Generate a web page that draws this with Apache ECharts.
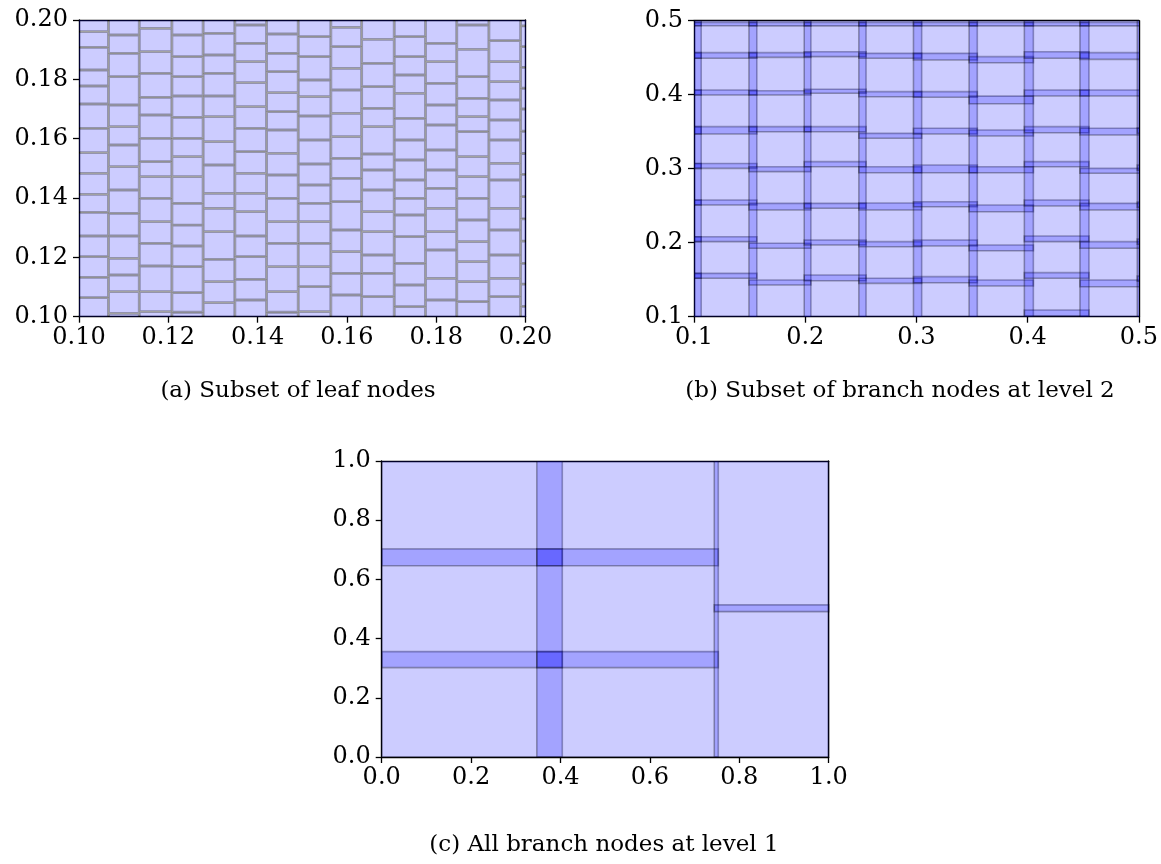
<!DOCTYPE html>
<html>
<head>
<meta charset="utf-8">
<script src="https://cdn.jsdelivr.net/npm/echarts@6/dist/echarts.min.js"></script>
<style>
  html, body { margin: 0; padding: 0; background: #ffffff; }
  #chart { width: 1161px; height: 864px; }
</style>
</head>
<body>
<div id="chart"></div>
<script>
// ---- tick labels ----
const ticksA = ['0.10', '0.12', '0.14', '0.16', '0.18', '0.20'];
const ticksB = ['0.1', '0.2', '0.3', '0.4', '0.5'];
const ticksC = ['0.0', '0.2', '0.4', '0.6', '0.8', '1.0'];

const captions = [
  '(a) Subset of leaf nodes',
  '(b) Subset of branch nodes at level 2',
  '(c) All branch nodes at level 1'
];

// ---- (a) leaf nodes: column x-edges and, per column, the y-edges of the stacked leaves ----
const leafColEdges = [0.0995, 0.1066, 0.1135, 0.1208, 0.1278, 0.1349, 0.1420, 0.1491,
                      0.1564, 0.1633, 0.1706, 0.1776, 0.1846, 0.1918, 0.1989, 0.2060];
const leafRowEdges = [
  [0.095, 0.10641, 0.11327, 0.12023, 0.1272, 0.13518, 0.14124, 0.14832, 0.15529, 0.16349, 0.17169, 0.17776, 0.18315, 0.19079, 0.19607, 0.205],
  [0.095, 0.10113, 0.10844, 0.11405, 0.11967, 0.1272, 0.13484, 0.1427, 0.15057, 0.15787, 0.16405, 0.17135, 0.1809, 0.18877, 0.19494, 0.205],
  [0.095, 0.1017, 0.10844, 0.11709, 0.12473, 0.13203, 0.1399, 0.1472, 0.15225, 0.16012, 0.16798, 0.17394, 0.18203, 0.18933, 0.19719, 0.205],
  [0.095, 0.1015, 0.10809, 0.11686, 0.12383, 0.1309, 0.13821, 0.1472, 0.15394, 0.16012, 0.1672, 0.17438, 0.1809, 0.18764, 0.19494, 0.205],
  [0.095, 0.10473, 0.11181, 0.11934, 0.12866, 0.13652, 0.14158, 0.15113, 0.159, 0.16742, 0.17438, 0.18203, 0.1882, 0.19551, 0.205],
  [0.095, 0.10563, 0.1126, 0.12023, 0.1272, 0.1354, 0.14158, 0.14832, 0.15562, 0.16349, 0.17079, 0.17888, 0.18596, 0.19214, 0.19831, 0.205],
  [0.095, 0.1015, 0.10844, 0.11687, 0.12473, 0.13203, 0.1399, 0.14776, 0.15506, 0.16293, 0.1691, 0.17551, 0.18258, 0.18877, 0.19528, 0.205],
  [0.095, 0.1017, 0.11012, 0.11687, 0.12473, 0.13203, 0.13821, 0.14439, 0.15147, 0.15956, 0.16764, 0.17416, 0.17978, 0.18764, 0.19438, 0.205],
  [0.095, 0.10731, 0.11462, 0.12192, 0.12922, 0.13877, 0.14664, 0.15338, 0.16068, 0.16854, 0.17641, 0.18371, 0.19101, 0.1975, 0.205],
  [0.095, 0.10675, 0.11462, 0.1208, 0.12866, 0.1354, 0.1427, 0.14944, 0.15484, 0.16405, 0.17023, 0.17753, 0.1854, 0.19348, 0.205],
  [0.095, 0.10338, 0.11068, 0.11799, 0.12697, 0.13428, 0.1399, 0.14607, 0.15281, 0.15956, 0.16686, 0.17528, 0.18146, 0.18764, 0.19438, 0.205],
  [0.095, 0.10563, 0.11293, 0.12248, 0.12866, 0.13652, 0.14327, 0.14944, 0.15618, 0.16461, 0.17135, 0.17866, 0.18596, 0.19214, 0.205],
  [0.095, 0.10506, 0.11181, 0.11855, 0.12529, 0.13259, 0.1399, 0.1472, 0.15394, 0.16236, 0.16742, 0.1736, 0.1809, 0.19011, 0.19831, 0.205],
  [0.095, 0.10675, 0.11293, 0.1208, 0.12922, 0.13652, 0.14607, 0.15169, 0.15956, 0.1663, 0.17304, 0.17922, 0.18596, 0.19303, 0.205],
  [0.095, 0.1035, 0.111, 0.118, 0.1255, 0.133, 0.1405, 0.148, 0.155, 0.1625, 0.17, 0.177, 0.184, 0.191, 0.198, 0.205]
];

// ---- (b) level-2 branch nodes: column x-extents and, per column, the overlap bands between stacked nodes ----
const branchColX = [
  [0.05, 0.1065], [0.1003, 0.1565], [0.1494, 0.2051], [0.1991, 0.2547], [0.2482, 0.3047],
  [0.2973, 0.3547], [0.3473, 0.4051], [0.3970, 0.4551], [0.4470, 0.5015], [0.4985, 0.56]
];
const branchBands = [
  [[0.1519, 0.1586], [0.2014, 0.2081], [0.2509, 0.2577], [0.3005, 0.3070], [0.3469, 0.3568], [0.3996, 0.4064], [0.4492, 0.4568], [0.4932, 0.4977]],
  [[0.1519, 0.1586], [0.2014, 0.2081], [0.2509, 0.2577], [0.3005, 0.3070], [0.3469, 0.3568], [0.3996, 0.4064], [0.4492, 0.4568], [0.4932, 0.4977]],
  [[0.1428, 0.1496], [0.1924, 0.1992], [0.2442, 0.2532], [0.2960, 0.3027], [0.3500, 0.3568], [0.3996, 0.4054], [0.4505, 0.4568], [0.4930, 0.4977]],
  [[0.1486, 0.1563], [0.1969, 0.2036], [0.2465, 0.2532], [0.3027, 0.3095], [0.3500, 0.3568], [0.4019, 0.4073], [0.4514, 0.4581], [0.4930, 0.4977]],
  [[0.1451, 0.1519], [0.1946, 0.2014], [0.2442, 0.2536], [0.2946, 0.3027], [0.3411, 0.3478], [0.3973, 0.4041], [0.4492, 0.4559], [0.4930, 0.4977]],
  [[0.1459, 0.1541], [0.1955, 0.2036], [0.2486, 0.2554], [0.2946, 0.3050], [0.3469, 0.3546], [0.3965, 0.4041], [0.4469, 0.4559], [0.4930, 0.4977]],
  [[0.1415, 0.1496], [0.1892, 0.1969], [0.2419, 0.2509], [0.2946, 0.3027], [0.3442, 0.3523], [0.3878, 0.3981], [0.4432, 0.4514], [0.4930, 0.4977]],
  [[0.1010, 0.1090], [0.1519, 0.1595], [0.2014, 0.2091], [0.2496, 0.2577], [0.3027, 0.3095], [0.3486, 0.3568], [0.3982, 0.4064], [0.4492, 0.4581], [0.4930, 0.4977]],
  [[0.1405, 0.1496], [0.1924, 0.2014], [0.2442, 0.2532], [0.2938, 0.3005], [0.3455, 0.3546], [0.3982, 0.4064], [0.4478, 0.4568], [0.4930, 0.4977]],
  [[0.1480, 0.1550], [0.1980, 0.2050], [0.2480, 0.2550], [0.2980, 0.3050], [0.3480, 0.3550]]
];

// ---- (c) level-1 branch nodes: [x0, x1, y0, y1] ----
const levelOneNodes = [
  [0.000, 0.404, 0.000, 0.356],
  [0.000, 0.404, 0.302, 0.703],
  [0.000, 0.404, 0.646, 1.000],
  [0.347, 0.753, 0.000, 0.356],
  [0.347, 0.753, 0.302, 0.703],
  [0.347, 0.753, 0.646, 1.000],
  [0.744, 1.000, 0.000, 0.514],
  [0.744, 1.000, 0.491, 1.000]
];

// ---- build rectangle lists ----
function buildLeaves() {
  const out = [];
  const gx = 0.00014, gy = 0.0002;
  for (let i = 0; i < leafRowEdges.length; i++) {
    const x0 = leafColEdges[i] + gx, x1 = leafColEdges[i + 1] - gx;
    const r = leafRowEdges[i];
    for (let k = 0; k < r.length - 1; k++) out.push([x0, x1, r[k] + gy, r[k + 1] - gy]);
  }
  return out;
}
function buildBranches() {
  const out = [];
  for (let i = 0; i < branchColX.length; i++) {
    const [x0, x1] = branchColX[i];
    const bands = branchBands[i];
    let lo = 0.05;
    for (let k = 0; k < bands.length; k++) {
      out.push([x0, x1, lo, bands[k][1]]);
      lo = bands[k][0];
    }
    out.push([x0, x1, lo, 0.56]);
  }
  return out;
}

const FONT = '"DejaVu Serif", "Liberation Serif", serif';
const TICK_FS = 24;
const CAP_FS = 23;

function renderBox(params, api) {
  const a = api.coord([api.value(0), api.value(2)]);
  const b = api.coord([api.value(1), api.value(3)]);
  return {
    type: 'rect',
    shape: {
      x: Math.min(a[0], b[0]), y: Math.min(a[1], b[1]),
      width: Math.abs(b[0] - a[0]), height: Math.abs(b[1] - a[1])
    },
    style: { fill: 'rgba(0,0,255,0.2)', stroke: 'rgba(0,0,0,0.32)', lineWidth: 1.6 }
  };
}

function labelFrom(ticks, min, step) {
  return v => {
    const i = Math.round((v - min) / step);
    return ticks[i] !== undefined ? ticks[i] : '';
  };
}

const panels = [
  { grid: { left: 79, top: 20, width: 446.5, height: 296.7 }, min: 0.1, max: 0.2, step: 0.02, ticks: ticksA, data: buildLeaves() },
  { grid: { left: 694, top: 20.7, width: 448, height: 296 }, min: 0.1, max: 0.5, step: 0.1, ticks: ticksB, data: buildBranches() },
  { grid: { left: 381.7, top: 461, width: 447, height: 296 }, min: 0, max: 1, step: 0.2, ticks: ticksC, data: levelOneNodes }
];

const grids = [], xAxes = [], yAxes = [], series = [];
const axisLine = { show: true, onZero: false, lineStyle: { color: '#000', width: 1.4 } };
panels.forEach((p, i) => {
  grids.push(Object.assign({ containLabel: false }, p.grid));
  const fmt = labelFrom(p.ticks, p.min, p.step);
  const common = { type: 'value', gridIndex: i, min: p.min, max: p.max, interval: p.step, splitLine: { show: false } };
  xAxes.push(Object.assign({}, common, {
    position: 'bottom', axisLine,
    axisTick: { show: true, inside: false, length: 6, lineStyle: { color: '#000', width: 1.3 } },
    axisLabel: { show: true, formatter: fmt, color: '#000', fontFamily: FONT, fontSize: TICK_FS, margin: 9, showMinLabel: true, showMaxLabel: true }
  }));
  yAxes.push(Object.assign({}, common, {
    position: 'left', axisLine,
    axisTick: { show: true, inside: false, length: 6, lineStyle: { color: '#000', width: 1.3 } },
    axisLabel: { show: true, formatter: fmt, color: '#000', fontFamily: FONT, fontSize: TICK_FS, margin: 11, showMinLabel: true, showMaxLabel: true }
  }));
  // frame on the top and right sides
  xAxes.push(Object.assign({}, common, { position: 'top', axisLine, axisTick: { show: false }, axisLabel: { show: false } }));
  yAxes.push(Object.assign({}, common, { position: 'right', axisLine, axisTick: { show: false }, axisLabel: { show: false } }));
  series.push({
    type: 'custom', xAxisIndex: 2 * i, yAxisIndex: 2 * i, clip: true, silent: true,
    renderItem: renderBox, data: p.data, animation: false, z: 1
  });
});

const capFont = CAP_FS + 'px ' + FONT;
const chart = echarts.init(document.getElementById('chart'), null, { renderer: 'canvas' });
chart.setOption({
  animation: false,
  backgroundColor: '#ffffff',
  grid: grids, xAxis: xAxes, yAxis: yAxes, series,
  graphic: [
    { type: 'text', x: 298, y: 391, style: { text: captions[0], font: capFont, fill: '#000', textAlign: 'center', textVerticalAlign: 'middle' } },
    { type: 'text', x: 900, y: 391, style: { text: captions[1], font: capFont, fill: '#000', textAlign: 'center', textVerticalAlign: 'middle' } },
    { type: 'text', x: 604, y: 845, style: { text: captions[2], font: capFont, fill: '#000', textAlign: 'center', textVerticalAlign: 'middle' } }
  ]
});
</script>
</body>
</html>
